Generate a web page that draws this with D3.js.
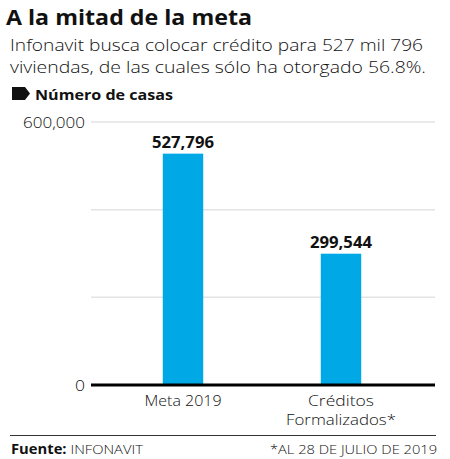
<!DOCTYPE html>
<html>
<head>
<meta charset="utf-8">
<script src="https://cdn.jsdelivr.net/npm/d3@7"></script>
<style>
  body { margin: 0; background: #fff; }
  svg text { font-family: "Open Sans", Lato, sans-serif; fill: #111; }
</style>
</head>
<body>
<div id="chart"></div>
<script>
// data
var categories = ['Meta 2019', 'Créditos Formalizados*'];
var category_lines = [['Meta 2019'], ['Créditos', 'Formalizados*']];
var values = [527796, 299544];
var value_labels = ['527,796', '299,544'];
var y_ticks = [0, 200000, 400000, 600000];
var y_tick_labels = ['0', '', '', '600,000'];

var width = 450;
var height = 459;

var plot_left = 91;
var plot_right = 435;
var plot_top = 122;
var plot_bottom = 385;

var svg = d3.select('#chart')
  .append('svg')
    .attr('width', width)
    .attr('height', height);

// squeeze or widen text to the width measured on the original
function fit(sel, w) {
    sel.attr('textLength', w).attr('lengthAdjust', 'spacingAndGlyphs');
    return sel;
}

// title + subtitle
fit(svg.append('text')
    .text('A la mitad de la meta')
    .attr('x', 6)
    .attr('y', 25)
    .attr('font-size', '20.5px')
    .attr('font-weight', 'bold'), 246);

var sub = ['Infonavit busca colocar crédito para 527 mil 796',
           'viviendas, de las cuales sólo ha otorgado 56.8%.'];
var sub_w = [413, 416];
svg.append('g')
    .selectAll('text')
    .data(sub)
  .enter()
    .append('text')
    .text(function(d) { return d; })
    .attr('x', 10)
    .attr('y', function(d, i) { return 51 + i * 22; })
    .attr('font-size', '16.5px')
    .attr('font-weight', 300)
    .attr('textLength', function(d, i) { return sub_w[i]; })
    .attr('lengthAdjust', 'spacingAndGlyphs');

// "Número de casas" tag
svg.append('path')
    .attr('d', 'M12,87 L25,87 L30,93.5 L25,100 L12,100 Z')
    .attr('fill', '#111');
fit(svg.append('text')
    .text('Número de casas')
    .attr('x', 35)
    .attr('y', 100)
    .attr('font-size', '15px')
    .attr('font-weight', 'bold'), 138);

// scales
var x = d3.scaleBand()
    .domain(categories)
    .range([104, 420])
    .paddingInner(0.744)
    .paddingOuter(0.372);

var y = d3.scaleLinear()
    .domain([0, 600000])
    .range([plot_bottom, plot_top]);

// grid lines
svg.append('g')
    .selectAll('line.y-grid')
    .data(y_ticks.slice(1))
  .enter()
    .append('line')
    .attr('x1', plot_left)
    .attr('x2', plot_right)
    .attr('y1', function(d) { return y(d); })
    .attr('y2', function(d) { return y(d); })
    .attr('stroke', '#e3e3e3')
    .attr('stroke-width', 1.5);

// y labels
var y_w = [10, 0, 0, 62];
svg.append('g')
    .selectAll('text.y-grid')
    .data(y_ticks)
  .enter()
    .append('text')
    .text(function(d, i) { return y_tick_labels[i]; })
    .attr('x', 85)
    .attr('y', function(d) { return y(d) + 5.5; })
    .attr('font-size', '15px')
    .attr('font-weight', 300)
    .style('text-anchor', 'end')
    .each(function(d, i) {
        if(y_w[i] > 0) fit(d3.select(this), y_w[i]);
    });

// bars
svg.append('g')
    .selectAll('rect')
    .data(values)
  .enter()
    .append('rect')
    .attr('x', function(d, i) { return x(categories[i]); })
    .attr('y', function(d) { return y(d); })
    .attr('width', x.bandwidth())
    .attr('height', function(d) { return y(0) - y(d); })
    .attr('fill', '#00a9e6');

// value labels
svg.append('g')
    .selectAll('text')
    .data(values)
  .enter()
    .append('text')
    .text(function(d, i) { return value_labels[i]; })
    .attr('x', function(d, i) { return x(categories[i]) + x.bandwidth() / 2; })
    .attr('y', function(d) { return y(d) - 6; })
    .attr('font-size', '15.5px')
    .attr('font-weight', 'bold')
    .style('text-anchor', 'middle')
    .attr('textLength', 62)
    .attr('lengthAdjust', 'spacingAndGlyphs');

// baseline
svg.append('line')
    .attr('x1', plot_left)
    .attr('x2', plot_right)
    .attr('y1', y(0))
    .attr('y2', y(0))
    .attr('stroke', '#000')
    .attr('stroke-width', 3);

// category labels
var cat_w = [[77], [66, 110]];
var cat = svg.append('g')
    .selectAll('text')
    .data(categories)
  .enter()
    .append('text')
    .attr('x', function(d) { return x(d) + x.bandwidth() / 2; })
    .attr('y', 406)
    .attr('font-size', '14.5px')
    .attr('font-weight', 300)
    .style('text-anchor', 'middle');
cat.selectAll('tspan')
    .data(function(d, i) {
        return category_lines[i].map(function(t, j) { return {t: t, w: cat_w[i][j]}; });
    })
  .enter()
    .append('tspan')
    .attr('x', function() { return d3.select(this.parentNode).attr('x'); })
    .attr('dy', function(d, i) { return i == 0 ? 0 : 18.5; })
    .attr('textLength', function(d) { return d.w; })
    .attr('lengthAdjust', 'spacingAndGlyphs')
    .text(function(d) { return d.t; });

// footer
svg.append('line')
    .attr('x1', 10)
    .attr('x2', 436)
    .attr('y1', 435.5)
    .attr('y2', 435.5)
    .attr('stroke', '#333')
    .attr('stroke-width', 1);

var src = svg.append('text')
    .attr('x', 11)
    .attr('y', 454)
    .attr('font-size', '13.5px');
src.append('tspan').text('Fuente: ').attr('font-weight', 'bold');
src.append('tspan').text('INFONAVIT').attr('font-weight', 300);
fit(src, 132);

fit(svg.append('text')
    .text('*AL 28 DE JULIO DE 2019')
    .attr('x', 437)
    .attr('y', 454)
    .attr('font-size', '13.5px')
    .attr('font-weight', 300)
    .style('text-anchor', 'end'), 167);
</script>
</body>
</html>
